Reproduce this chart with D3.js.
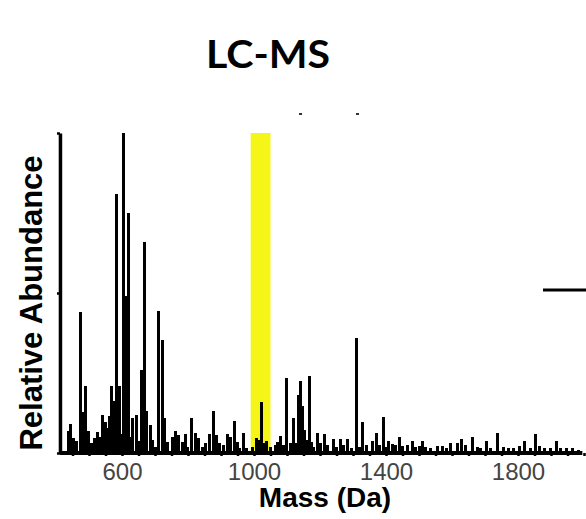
<!DOCTYPE html>
<html>
<head>
<meta charset="utf-8">
<script src="https://cdn.jsdelivr.net/npm/d3@7"></script>
<style>
  body { margin: 0; background: #fff; }
  svg { display: block; }
</style>
</head>
<body>
<div id="chart"></div>
<script>
// peak list: mass (Da) and relative abundance (%)
const peakMass = [
  437, 443, 452, 461, 474, 481, 489, 497, 505, 515, 524, 531, 539, 547, 554, 560,
  567, 575, 583, 590, 596, 603, 611, 618, 624, 631, 643, 650, 658, 666, 674, 684,
  692, 700, 710, 720, 726, 736, 751, 761, 771, 781, 791, 798, 809, 821, 831, 842,
  852, 865, 875, 885, 895, 906, 917, 927, 938, 948, 955, 967, 976, 994, 1007, 1015,
  1022, 1030, 1037, 1048, 1064, 1071, 1080, 1088, 1096, 1108, 1117, 1124, 1133, 1138, 1145, 1153,
  1159, 1166, 1173, 1180, 1190, 1200, 1211, 1221, 1238, 1248, 1260, 1270, 1281, 1294, 1309, 1318,
  1327, 1339, 1357, 1371, 1379, 1391, 1400, 1407, 1417, 1427, 1440, 1448, 1464, 1480, 1488, 1500,
  1509, 1518, 1533, 1554, 1569, 1582, 1594, 1614, 1628, 1639, 1662, 1676, 1685, 1702, 1715, 1736,
  1755, 1770, 1785, 1803, 1819, 1836, 1850, 1864, 1879, 1897, 1914, 1927, 1945, 1965, 1982
];
const peakAbund = [
  7, 9, 4.6, 3.9, 44, 12.8, 21, 7, 3, 4.6, 6.5, 5, 12, 9.7, 7.7, 11.5,
  21, 16.4, 81, 21, 6, 100, 49, 75, 5, 11, 12, 3.6, 26, 66, 13, 8.7,
  4, 2, 44.4, 35.3, 10.8, 3.5, 5, 6.9, 5.6, 3.5, 5.8, 2, 10.8, 6.1, 4.6, 2,
  3, 6, 13.1, 5.6, 3, 2.5, 5.8, 5, 10, 3.5, 1.5, 6.4, 1.5, 2, 4.8, 4,
  16, 3, 3.7, 2, 2.5, 3.5, 5.3, 2.5, 23.5, 3, 10.8, 3, 18, 22.6, 14.7, 7.2,
  4, 24, 3.5, 2, 6.4, 3, 5.8, 2.5, 4.3, 2, 4.3, 2.5, 4.3, 1.5, 35.8, 2,
  9.8, 2.5, 3.7, 6.3, 2.5, 11.4, 2, 3.7, 2.8, 2.5, 5, 2.2, 2.5, 3.7, 2, 2.2,
  3.7, 2, 1.5, 2.3, 2.3, 1.5, 3.2, 3.2, 4.3, 2.5, 5, 1.8, 1.5, 3.7, 1.5, 6.4,
  2, 1.5, 1.5, 2.3, 3.7, 1.5, 5.8, 2.3, 1.7, 1.5, 3.7, 1.5, 1.5, 1.5, 1
];
const massLabels = [600, 1000, 1400, 1800];
const highlightBand = [990, 1050];
const yTicks = [0, 50, 100];

const width = 586, height = 519;
const svg = d3.select("#chart").append("svg")
  .attr("width", width)
  .attr("height", height);

const x = d3.scaleLinear().domain([400, 2000]).range([56, 584]);
const y = d3.scaleLinear().domain([0, 100]).range([453, 133]);

// title
svg.append("text")
  .attr("x", 268).attr("y", 68)
  .attr("text-anchor", "middle")
  .attr("textLength", 124)
  .attr("lengthAdjust", "spacingAndGlyphs")
  .style("font", "bold 38px 'Comic Sans MS', Lato, sans-serif")
  .text("LC-MS");

// yellow highlight
svg.append("rect")
  .attr("x", x(highlightBand[0]))
  .attr("y", y(100))
  .attr("width", x(highlightBand[1]) - x(highlightBand[0]))
  .attr("height", y(0) - y(100))
  .attr("fill", "#f5f518");

// peaks
svg.append("g")
  .attr("shape-rendering", "crispEdges")
  .selectAll("rect")
  .data(peakMass.map((m, i) => ({m: m, v: peakAbund[i]})))
  .join("rect")
    .attr("x", d => Math.round(x(d.m)) - 1)
    .attr("y", d => Math.round(y(d.v)))
    .attr("width", 3)
    .attr("height", d => y(0) - Math.round(y(d.v)))
    .attr("fill", "#000");

// x axis
const xAxis = svg.append("g")
  .attr("transform", `translate(0,${y(0)})`)
  .call(d3.axisBottom(x)
    .tickValues(d3.range(400, 2001, 50))
    .tickSize(3)
    .tickSizeOuter(0)
    .tickPadding(7)
    .tickFormat(d => massLabels.includes(d) ? d : ""));
xAxis.select(".domain")
  .attr("d", `M${x(412)},0H${x(1995)}`)
  .attr("stroke-width", 4);
xAxis.selectAll(".tick line").attr("stroke-width", 2.5);
xAxis.selectAll(".tick").filter(d => d < 412).remove();
xAxis.selectAll("text")
  .style("font", "24px 'Liberation Sans', Arial, sans-serif")
  .attr("fill", "#444");

// y axis
const yAxis = svg.append("g")
  .attr("transform", `translate(${x(412)},0)`)
  .call(d3.axisLeft(y).tickValues(yTicks).tickSize(3).tickSizeOuter(0).tickFormat(""));
yAxis.select(".domain").attr("stroke-width", 3.5);
yAxis.selectAll(".tick line").attr("stroke-width", 2.5);

// axis titles
svg.append("text")
  .attr("transform", `translate(42,${(y(0) + y(100)) / 2 + 10}) rotate(-90)`)
  .attr("text-anchor", "middle")
  .style("font", "bold 31px 'Liberation Sans', Arial, sans-serif")
  .text("Relative Abundance");

svg.append("text")
  .attr("x", 325).attr("y", 507)
  .attr("text-anchor", "middle")
  .style("font", "bold 28px 'Liberation Sans', Arial, sans-serif")
  .text("Mass (Da)");

// stray bits of the neighbouring panel
svg.append("path")
  .attr("d", "M543,290H586")
  .attr("stroke", "#000").attr("stroke-width", 3);
svg.append("g").selectAll("rect")
  .data([299, 356])
  .join("rect")
    .attr("x", d => d).attr("y", 113)
    .attr("width", 3).attr("height", 2)
    .attr("fill", "#333");
</script>
</body>
</html>
